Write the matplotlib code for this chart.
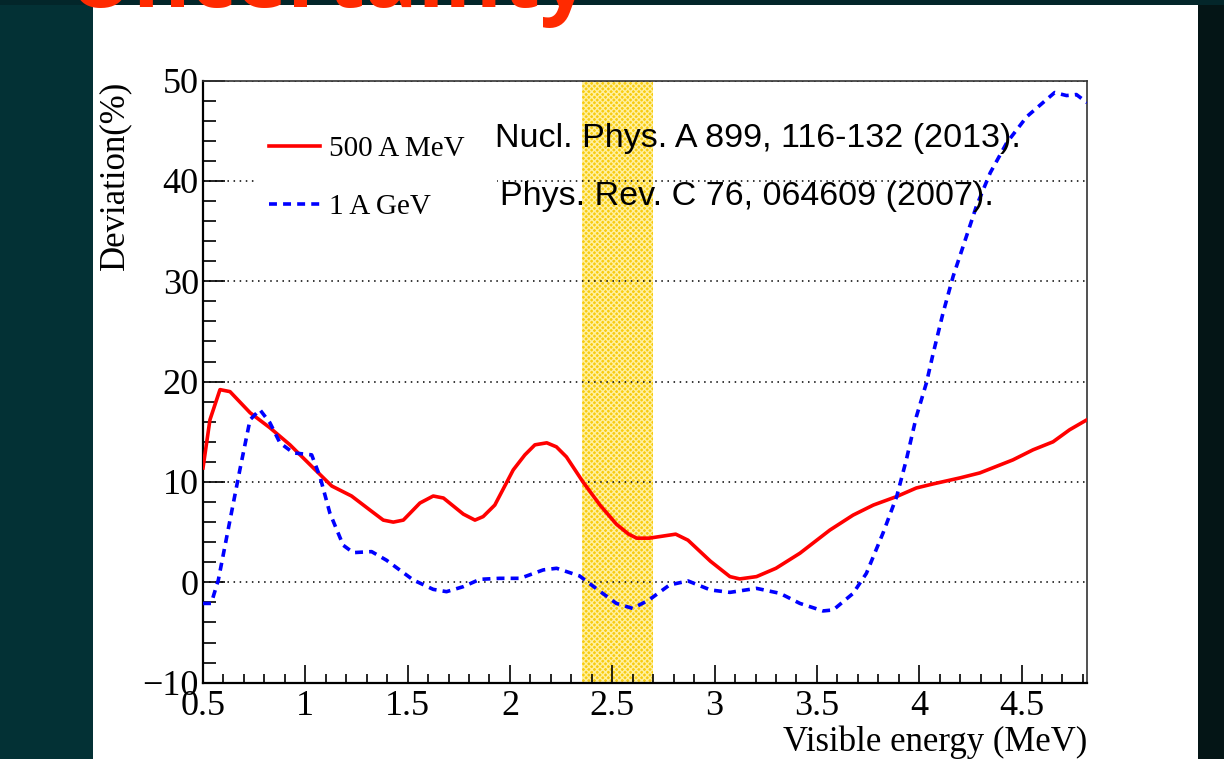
import matplotlib
matplotlib.use("Agg")
import matplotlib.pyplot as plt
from matplotlib.patches import Rectangle
from matplotlib.ticker import MultipleLocator, FormatStrFormatter

# deviation curves (visible energy in MeV, deviation in %)
e_500 = [0.50, 0.534, 0.583, 0.632, 0.73, 0.827, 0.925, 1.039, 1.129, 1.226,
         1.316, 1.381, 1.43, 1.479, 1.56, 1.625, 1.675, 1.772, 1.829, 1.869,
         1.926, 2.016, 2.073, 2.122, 2.18, 2.227, 2.276, 2.357, 2.44, 2.52,
         2.58, 2.62, 2.68, 2.81, 2.87, 2.98, 3.075, 3.123, 3.205, 3.30,
         3.417, 3.563, 3.677, 3.776, 3.89, 3.986, 4.067, 4.198, 4.296, 4.458,
         4.556, 4.654, 4.735, 4.82]
dev_500 = [11.4, 16.2, 19.2, 19.0, 16.9, 15.4, 13.7, 11.4, 9.6, 8.6,
           7.2, 6.2, 6.0, 6.2, 7.9, 8.6, 8.4, 6.8, 6.2, 6.55,
           7.7, 11.2, 12.7, 13.7, 13.9, 13.5, 12.5, 10.0, 7.7, 5.8,
           4.8, 4.4, 4.4, 4.8, 4.2, 2.1, 0.57, 0.34, 0.57, 1.4,
           2.9, 5.2, 6.7, 7.7, 8.55, 9.4, 9.8, 10.4, 10.9, 12.2,
           13.2, 14.0, 15.2, 16.2]

e_1g = [0.50, 0.54, 0.575, 0.632, 0.68, 0.73, 0.778, 0.827, 0.876, 0.941,
        1.031, 1.072, 1.12, 1.185, 1.234, 1.324, 1.397, 1.527, 1.625, 1.69,
        1.772, 1.853, 1.95, 2.05, 2.163, 2.228, 2.34, 2.44, 2.52, 2.60,
        2.68, 2.78, 2.87, 2.98, 3.075, 3.205, 3.32, 3.417, 3.53, 3.58,
        3.677, 3.742, 3.823, 3.89, 3.937, 3.986, 4.035, 4.067, 4.116, 4.166,
        4.215, 4.28, 4.347, 4.428, 4.526, 4.605, 4.662, 4.72, 4.768, 4.82]
dev_1g = [-2.1, -2.1, 0.24, 6.2, 11.2, 16.2, 17.2, 15.9, 13.9, 12.9,
          12.7, 10.5, 6.9, 3.7, 2.96, 3.06, 2.2, 0.24, -0.7, -0.93,
          -0.43, 0.3, 0.4, 0.4, 1.24, 1.4, 0.64, -0.9, -2.1, -2.6,
          -1.75, -0.26, 0.14, -0.76, -1.0, -0.6, -1.1, -2.1, -2.85, -2.75,
          -1.1, 0.9, 4.9, 8.55, 12.2, 16.5, 19.85, 22.7, 26.8, 30.5,
          33.5, 37.5, 40.8, 43.8, 46.4, 47.8, 48.8, 48.5, 48.6, 47.8]

band = (2.35, 2.70)
refs = ["Nucl. Phys. A 899, 116-132 (2013).",
        "Phys. Rev. C 76, 064609 (2007)."]

W, H = 1224, 759
fig = plt.figure(figsize=(W / 100, H / 100), dpi=100, facecolor="white")

# slide background around the white panel
fig.patches.append(Rectangle((0, 0), 93 / W, 1, transform=fig.transFigure,
                             facecolor="#033135", edgecolor="none"))
fig.patches.append(Rectangle((1198 / W, 0), 26 / W, 1, transform=fig.transFigure,
                             facecolor="#041516", edgecolor="none"))
fig.patches.append(Rectangle((0, 1 - 5 / H), 1, 5 / H, transform=fig.transFigure,
                             facecolor="#03262a", edgecolor="none"))
fig.text(590 / W, 1 - 7 / H, "Uncertainty", ha="right", va="baseline",
         fontsize=63, fontweight="bold", family="Open Sans", color="#ff2a00")

ax = fig.add_axes([203 / W, 1 - 682.7 / H, 884 / W, 602.2 / H])
ax.set_xlim(0.5, 4.82)
ax.set_ylim(-10, 50)

ax.axvspan(*band, facecolor="#f8cc10", edgecolor="#fff0a0", hatch="xxxxxx",
           linewidth=0, zorder=0.3)

ax.plot(e_500, dev_500, color="#ff0000", lw=2.6, label="500 A MeV", zorder=3)
ax.plot(e_1g, dev_1g, color="#0000ff", lw=2.6, dashes=(2.2, 1.7),
        label="1 A GeV", zorder=3)

ax.set_axisbelow(True)
ax.yaxis.grid(True, color="black", linestyle=(0, (1, 3)), linewidth=1.1)

serif = "Liberation Serif"
ax.xaxis.set_major_locator(MultipleLocator(0.5))
ax.xaxis.set_minor_locator(MultipleLocator(0.1))
ax.xaxis.set_major_formatter(FormatStrFormatter("%g"))
ax.yaxis.set_major_locator(MultipleLocator(10))
ax.yaxis.set_minor_locator(MultipleLocator(2))
ax.tick_params(axis="both", which="both", direction="in", top=False, right=False,
               width=1.2, color="black")
ax.tick_params(axis="x", which="major", length=13, pad=5)
ax.tick_params(axis="x", which="minor", length=6.5)
ax.tick_params(axis="y", which="major", length=16, pad=3)
ax.tick_params(axis="y", which="minor", length=9)
for lab in ax.get_xticklabels() + ax.get_yticklabels():
    lab.set_fontfamily(serif)
    lab.set_fontsize(26)

for side in ("left", "bottom"):
    ax.spines[side].set_linewidth(1.6)
for side in ("top", "right"):
    ax.spines[side].set_linewidth(1.2)
    ax.spines[side].set_color("#333333")

ax.set_xlabel("Visible energy (MeV)", family=serif, fontsize=25, loc="right",
              labelpad=2)
ax.set_ylabel("Deviation(%)", family=serif, fontsize=25, loc="top", labelpad=8)

leg = ax.legend(loc="upper left", bbox_to_anchor=(0.061, 0.928, 0.272, 0.0),
                mode="expand", borderaxespad=0, borderpad=0.4,
                handlelength=1.75, handletextpad=0.32, labelspacing=1.1,
                frameon=True, fancybox=False, framealpha=1.0,
                prop={"family": serif, "size": 21})
leg.get_frame().set_edgecolor("none")
leg.get_frame().set_facecolor("white")
leg.set_zorder(4)

ax.text(0.3303, 0.8896, refs[0], transform=ax.transAxes, ha="left",
        va="baseline", family="Liberation Sans", fontsize=24.5, zorder=5)
ax.text(0.3360, 0.7933, refs[1], transform=ax.transAxes, ha="left",
        va="baseline", family="Liberation Sans", fontsize=24.5, zorder=5)

fig.savefig("out.png", dpi=100, facecolor=fig.get_facecolor())
